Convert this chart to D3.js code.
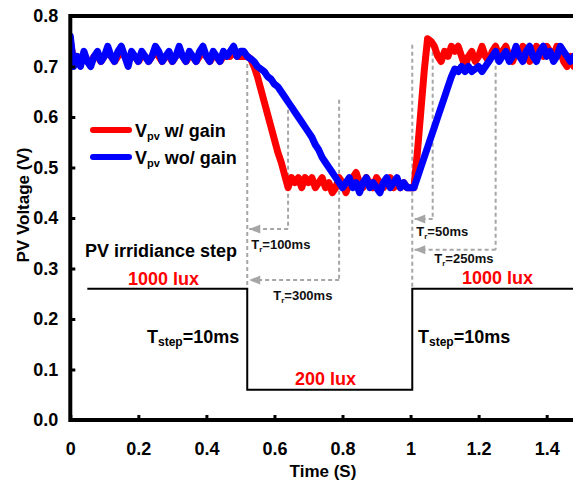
<!DOCTYPE html>
<html>
<head>
<meta charset="utf-8">
<script src="https://cdn.jsdelivr.net/npm/d3@7"></script>
<style>
  body { margin: 0; background: #fff; }
  text { font-family: Arial, "Liberation Sans", sans-serif; font-weight: bold; }
</style>
</head>
<body>
<svg id="pv_chart"></svg>
<script>
// sample period of the traces (s)
const dt = 0.01

// PV voltage w/ gain (red), one sample every 10 ms from t = 0
const vpv_gain = [
  0.75, 0.71, 0.72, 0.71, 0.72, 0.71, 0.71, 0.72, 0.72, 0.71,
  0.72, 0.73, 0.72, 0.71, 0.72, 0.73, 0.72, 0.71, 0.72, 0.72,
  0.71, 0.72, 0.72, 0.71, 0.72, 0.73, 0.72, 0.71, 0.72, 0.72,
  0.71, 0.72, 0.73, 0.72, 0.71, 0.72, 0.72, 0.71, 0.72, 0.73,
  0.72, 0.71, 0.72, 0.72, 0.71, 0.72, 0.72, 0.72, 0.73, 0.72,
  0.72, 0.72, 0.72,
  0.715, 0.70, 0.68, 0.655, 0.63, 0.605, 0.58, 0.555, 0.53, 0.51, 0.485, 0.46,
  0.48, 0.47, 0.48, 0.46, 0.48, 0.47, 0.48, 0.46, 0.47, 0.48,
  0.46, 0.47, 0.45, 0.46, 0.48, 0.47, 0.45, 0.47, 0.48, 0.49,
  0.47, 0.46, 0.48, 0.47, 0.46, 0.48, 0.47, 0.46, 0.47, 0.48,
  0.46, 0.47, 0.46, 0.47, 0.46, 0.46,
  0.46, 0.53, 0.61, 0.69, 0.755,
  0.75, 0.74, 0.72, 0.71, 0.73, 0.72, 0.74, 0.73, 0.74, 0.72,
  0.70, 0.72, 0.73, 0.71, 0.72, 0.74, 0.72, 0.71, 0.73, 0.74,
  0.72, 0.73, 0.74, 0.72, 0.71, 0.73, 0.72, 0.74, 0.73, 0.71,
  0.72, 0.74, 0.73, 0.72, 0.74, 0.73, 0.72, 0.74, 0.73, 0.71,
  0.70, 0.72, 0.70
]

// PV voltage wo/ gain (blue)
const vpv_nogain = [
  0.76, 0.70, 0.72, 0.70, 0.73, 0.71, 0.70, 0.72, 0.73, 0.71,
  0.72, 0.74, 0.72, 0.71, 0.73, 0.74, 0.72, 0.70, 0.73, 0.72,
  0.71, 0.73, 0.72, 0.71, 0.72, 0.74, 0.73, 0.71, 0.72, 0.73,
  0.71, 0.72, 0.74, 0.72, 0.71, 0.73, 0.72, 0.71, 0.73, 0.74,
  0.72, 0.71, 0.73, 0.72, 0.71, 0.73, 0.72, 0.73, 0.74, 0.72,
  0.73, 0.73, 0.72,
  0.715, 0.71, 0.70, 0.695, 0.69, 0.68, 0.675, 0.665, 0.66, 0.65,
  0.64, 0.63, 0.62, 0.61, 0.60, 0.59, 0.58, 0.57, 0.56, 0.545,
  0.535, 0.52, 0.51, 0.50, 0.49, 0.48, 0.47,
  0.46, 0.47, 0.48, 0.46, 0.47, 0.45, 0.47, 0.48, 0.46, 0.47,
  0.46, 0.45, 0.47, 0.48, 0.46, 0.47, 0.48, 0.46, 0.47, 0.46, 0.46,
  0.46, 0.48, 0.50, 0.52, 0.54, 0.56, 0.58, 0.60, 0.62, 0.64, 0.66, 0.68, 0.695,
  0.69, 0.70, 0.69, 0.70, 0.69, 0.695, 0.70, 0.69, 0.70,
  0.71, 0.72, 0.73, 0.71, 0.72, 0.73, 0.71, 0.72, 0.74, 0.72,
  0.71, 0.73, 0.74, 0.72, 0.71, 0.73, 0.74, 0.72, 0.73, 0.71,
  0.72, 0.74, 0.73, 0.72, 0.71, 0.72
]

// irradiance step drawn as a line (time, level in volts of the plot)
const step_t = [0.05, 0.52, 0.52, 1.005, 1.005, 1.5]
const step_v = [0.26, 0.26, 0.06, 0.06, 0.26, 0.26]

// response-time markers: vertical dashed line at t, from v_top down to v_arrow,
// then a dashed arrow back to t_from
const tr_t = [0.64, 0.79, 1.065, 1.25]
const tr_from = [0.52, 0.52, 1.005, 1.005]
const tr_top = [0.628, 0.634, 0.743, 0.743]
const tr_arrow = [0.378, 0.277, 0.398, 0.337]
const tr_label = ["100ms", "300ms", "50ms", "250ms"]
// step edges dashed lines
const edge_t = [0.52, 1.005]
const edge_top = [0.719, 0.743]

const x_ticks = [0, 0.2, 0.4, 0.6, 0.8, 1, 1.2, 1.4]
const y_ticks = [0, 0.1, 0.2, 0.3, 0.4, 0.5, 0.6, 0.7, 0.8]

var W = 573, H = 483

var svg = d3.select("#pv_chart")
  .attr("width", W)
  .attr("height", H)

var x = d3.scaleLinear().domain([0, 1.5]).range([70.3, 580.7])
var y = d3.scaleLinear().domain([0, 0.8]).range([420, 16])

svg.append("defs").append("clipPath").attr("id", "plotclip")
  .append("rect")
  .attr("x", x(0)).attr("y", y(0.8))
  .attr("width", x(1.5) - x(0)).attr("height", y(0) - y(0.8))

var grey = "#a6a6a6"

// dashed lines at the step edges
svg.append("g").selectAll("line")
  .data(edge_t)
  .enter().append("line")
  .attr("x1", d => x(d)).attr("x2", d => x(d))
  .attr("y1", (d, i) => y(edge_top[i]))
  .attr("y2", y(0.26))
  .attr("stroke", grey).attr("stroke-width", 2)
  .attr("stroke-dasharray", "4,3")

// response time markers
var tr = svg.append("g").selectAll("g")
  .data(tr_t)
  .enter().append("g")

tr.append("line")
  .attr("x1", d => x(d)).attr("x2", d => x(d))
  .attr("y1", (d, i) => y(tr_top[i]))
  .attr("y2", (d, i) => y(tr_arrow[i]))
  .attr("stroke", grey).attr("stroke-width", 2)
  .attr("stroke-dasharray", "4,3")

tr.append("line")
  .attr("x1", d => x(d))
  .attr("x2", (d, i) => x(tr_from[i]) + 2)
  .attr("y1", (d, i) => y(tr_arrow[i]))
  .attr("y2", (d, i) => y(tr_arrow[i]))
  .attr("stroke", grey).attr("stroke-width", 2)
  .attr("stroke-dasharray", "4,3")

tr.append("path")
  .attr("d", (d, i) => {
    var tx = x(tr_from[i]) + 2, ty = y(tr_arrow[i])
    return "M" + tx + "," + ty + " L" + (tx + 11) + "," + (ty - 4.5) + " L" + (tx + 11) + "," + (ty + 4.5) + " Z"
  })
  .attr("fill", grey)

// Tr labels (positions relative to the arrows)
var tr_dx = [4, 26, 4, 22]
var tr_dy = [20, 20, 17, 13]
var tr_text = tr.append("text")
  .attr("x", (d, i) => x(tr_from[i]) + tr_dx[i])
  .attr("y", (d, i) => y(tr_arrow[i]) + tr_dy[i])
  .attr("font-size", "13px")
  .attr("fill", "#111")
tr_text.append("tspan").text("T")
tr_text.append("tspan").text("r").attr("font-size", "8px").attr("dy", 3)
tr_text.append("tspan").text((d, i) => "=" + tr_label[i]).attr("dy", -3)

// irradiance step line
svg.append("path")
  .datum(d3.zip(step_t, step_v))
  .attr("clip-path", "url(#plotclip)")
  .attr("fill", "none")
  .attr("stroke", "black")
  .attr("stroke-width", 2)
  .attr("d", d3.line().x(d => x(d[0])).y(d => y(d[1])))

// voltage traces
var trace = d3.line()
  .x((d, i) => x(i * dt))
  .y(d => y(d))

var traces = svg.append("g").attr("clip-path", "url(#plotclip)")
traces.selectAll("path")
  .data([vpv_gain, vpv_nogain])
  .enter().append("path")
  .attr("d", trace)
  .attr("fill", "none")
  .attr("stroke", (d, i) => ["#ff0000", "#0000ff"][i])
  .attr("stroke-width", 7)
  .attr("stroke-linejoin", "round")
  .attr("stroke-linecap", "round")

// frame (right side falls outside the picture)
svg.append("rect")
  .attr("x", x(0)).attr("y", y(0.8))
  .attr("width", x(1.5) - x(0)).attr("height", y(0) - y(0.8))
  .attr("fill", "none")
  .attr("stroke", "black")
  .attr("stroke-width", 4)

// axes with inward ticks
var xAxis = svg.append("g")
  .attr("class", "xAxis")
  .attr("transform", "translate(0," + y(0) + ")")
  .call(d3.axisBottom(x).tickValues(x_ticks).tickSize(-5).tickPadding(22).tickFormat(d3.format("")))
var yAxis = svg.append("g")
  .attr("class", "yAxis")
  .attr("transform", "translate(" + x(0) + ",0)")
  .call(d3.axisLeft(y).tickValues(y_ticks).tickSize(-5).tickPadding(12).tickFormat(d3.format(".1f")))

svg.selectAll(".domain").remove()
svg.selectAll(".tick line").attr("stroke", "black").attr("stroke-width", 3)
svg.selectAll(".tick text")
  .attr("font-size", "18px")
  .attr("font-family", "Arial, 'Liberation Sans', sans-serif")
  .attr("font-weight", "bold")
  .attr("fill", "black")

// axis titles
svg.append("text")
  .text("Time (S)")
  .attr("x", 323).attr("y", 477)
  .attr("text-anchor", "middle")
  .attr("font-size", "17px")

svg.append("text")
  .text("PV Voltage (V)")
  .attr("transform", "translate(29,205) rotate(-90)")
  .attr("text-anchor", "middle")
  .attr("font-size", "17px")

// legend
var legend = svg.append("g").selectAll("g")
  .data(["w/ gain", "wo/ gain"])
  .enter().append("g")
  .attr("transform", (d, i) => "translate(0," + (130 + i * 27) + ")")

legend.append("line")
  .attr("x1", 93).attr("x2", 129)
  .attr("stroke", (d, i) => ["#ff0000", "#0000ff"][i])
  .attr("stroke-width", 6)
  .attr("stroke-linecap", "round")

var leg_text = legend.append("text")
  .attr("x", 135).attr("y", 7)
  .attr("font-size", "18px")
leg_text.append("tspan").text("V")
leg_text.append("tspan").text("pv").attr("font-size", "11px").attr("dy", 3)
leg_text.append("tspan").text(d => " " + d).attr("dy", -3)

// step annotations
svg.append("text")
  .text("PV irridiance step")
  .attr("x", 85).attr("y", 257)
  .attr("font-size", "18px")

var lux = [["1000 lux", 128, 285], ["1000 lux", 462, 284], ["200 lux", 295, 385]]
svg.append("g").selectAll("text")
  .data(lux)
  .enter().append("text")
  .text(d => d[0])
  .attr("x", d => d[1]).attr("y", d => d[2])
  .attr("font-size", "18px")
  .attr("fill", "#ff0000")

var tstep = svg.append("g").selectAll("text")
  .data([147, 418])
  .enter().append("text")
  .attr("x", d => d).attr("y", 343)
  .attr("font-size", "18px")
tstep.append("tspan").text("T")
tstep.append("tspan").text("step").attr("font-size", "12px").attr("dy", 3)
tstep.append("tspan").text("=10ms").attr("dy", -3)
</script>
</body>
</html>
